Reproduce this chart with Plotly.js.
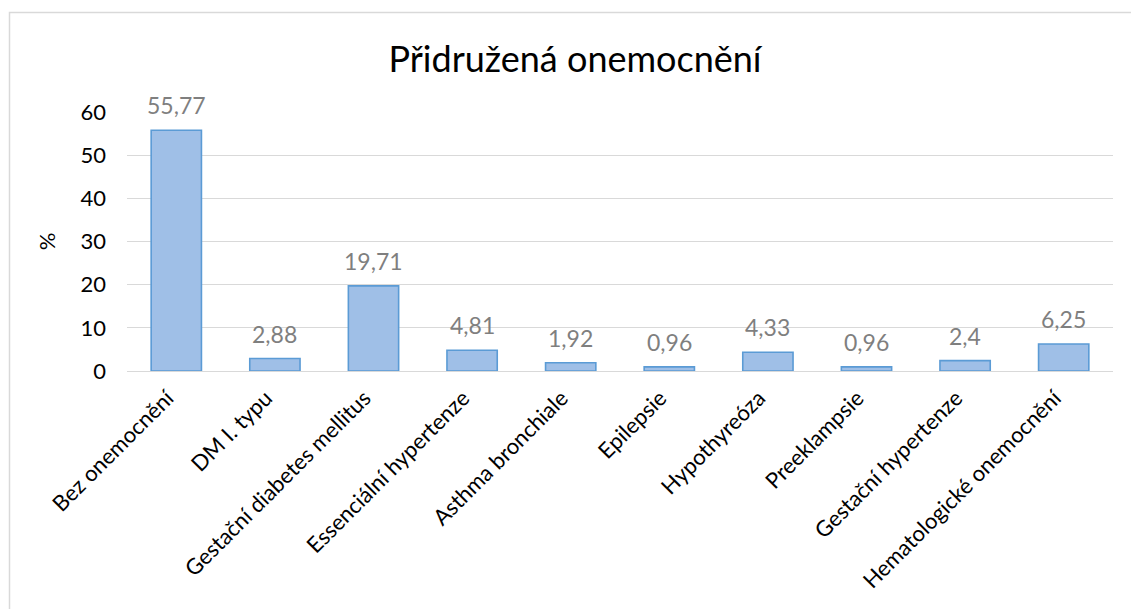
<!DOCTYPE html>
<html>
<head>
<meta charset="utf-8">
<script src="https://cdn.plot.ly/plotly-3.0.1.min.js"></script>
<style>
html,body{margin:0;padding:0;background:#fff;}
#chart{width:1131px;height:609px;}
</style>
</head>
<body>
<div id="chart"></div>
<script>
const categories = [
  "Bez onemocnění",
  "DM I. typu",
  "Gestační diabetes mellitus",
  "Essenciální hypertenze",
  "Asthma bronchiale",
  "Epilepsie",
  "Hypothyreóza",
  "Preeklampsie",
  "Gestační hypertenze",
  "Hematologické onemocnění"
];
const values = [55.77, 2.88, 19.71, 4.81, 1.92, 0.96, 4.33, 0.96, 2.4, 6.25];
const valueLabels = ["55,77", "2,88", "19,71", "4,81", "1,92", "0,96", "4,33", "0,96", "2,4", "6,25"];
const yTicks = [0, 10, 20, 30, 40, 50, 60];

const FONT = "Lato, 'Open Sans', sans-serif";

const trace = {
  type: "bar",
  x: categories,
  y: values,
  marker: {color: "#9fbfe7", line: {color: "#5b9bd5", width: 1.6}},
  hoverinfo: "none"
};

const labelAnnotations = categories.map((c, i) => ({
  x: c, y: values[i], xref: "x", yref: "y",
  text: valueLabels[i],
  showarrow: false,
  xanchor: "center", yanchor: "bottom",
  yshift: 9,
  font: {family: FONT, size: 23, color: "#7f7f7f"}
}));

const L = 127, R = 18, T = 112, B = 238;
const W = 1131, H = 609;
const pw = W - L - R, ph = H - T - B;
const px = v => (v - L) / pw;
const py = v => (H - B - v) / ph;

const layout = {
  width: W, height: H,
  margin: {l: L, r: R, t: T, b: B},
  paper_bgcolor: "#ffffff",
  plot_bgcolor: "#ffffff",
  bargap: 0.49,
  showlegend: false,
  title: {
    text: "Přidružená onemocnění",
    font: {family: FONT, size: 36, color: "#000000"},
    xref: "container", x: 575 / W, xanchor: "center",
    yref: "container", y: 1 - 59 / H, yanchor: "middle"
  },
  xaxis: {
    type: "category",
    tickangle: -45,
    tickfont: {family: FONT, size: 22, color: "#000000"},
    ticklabelstandoff: 9,
    ticklabelshift: -9,
    showgrid: false,
    showline: false,
    ticks: "",
    zeroline: false,
    fixedrange: true
  },
  yaxis: {
    range: [0, 60],
    tickvals: yTicks,
    ticktext: yTicks.map(String),
    tickfont: {family: FONT, size: 22, color: "#000000"},
    ticklabelstandoff: 20,
    showgrid: true,
    gridcolor: "#d9d9d9",
    gridwidth: 1,
    zeroline: true,
    zerolinecolor: "#d9d9d9",
    zerolinewidth: 1,
    showline: false,
    title: {text: "%", font: {family: FONT, size: 22, color: "#000000"}, standoff: 18},
    fixedrange: true
  },
  annotations: labelAnnotations,
  shapes: [{
    type: "rect",
    xref: "paper", yref: "paper",
    x0: px(9.5), x1: px(1160),
    y0: py(640), y1: py(12.5),
    line: {color: "#d9d9d9", width: 1.5},
    fillcolor: "rgba(0,0,0,0)",
    layer: "below"
  }]
};

Plotly.newPlot("chart", [trace], layout, {staticPlot: true, displayModeBar: false});
</script>
</body>
</html>
